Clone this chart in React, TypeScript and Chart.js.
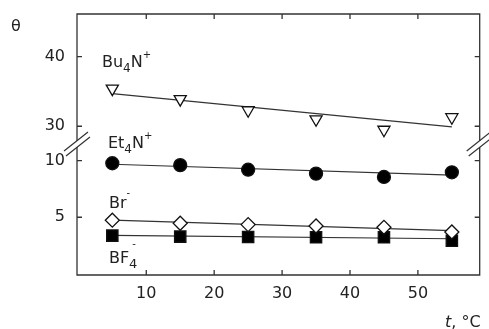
import React, { useEffect, useRef } from "react";
import { Chart, registerables } from "chart.js";

Chart.register(...registerables);

// ---- data ----
const xValues = [5, 15, 25, 35, 45, 55];
const bu4nValues = [35.4, 33.9, 32.3, 31.0, 29.5, 31.3];
const et4nValues = [9.77, 9.6, 9.2, 8.85, 8.56, 8.97];
const brValues = [4.74, 4.47, 4.35, 4.23, 4.11, 3.7];
const bf4Values = [3.38, 3.29, 3.26, 3.23, 3.23, 2.93];
const fitX = [5, 55];
const bu4nFit = [34.7, 29.9];
const et4nFit = [9.68, 8.72];
const brFit = [4.74, 3.82];
const bf4Fit = [3.4, 3.1];
const xTicks = [10, 20, 30, 40, 50];
const yTicksTop = [30, 40];
const yTicksBottom = [5, 10];

const FONT = "'DejaVu Sans', sans-serif";
const TEXT = "#222";

type Part = { t: string; size: number; dy: number; dx?: number; italic?: boolean };
type RichLabel = { x: number; y: number; axis: string; parts: Part[] };

const seriesLabels: RichLabel[] = [
  { x: 3.47, y: 38.56, axis: "yTop", parts: [
    { t: "Bu", size: 16, dy: 0 }, { t: "4", size: 12, dy: 5 }, { t: "N", size: 16, dy: 0 }, { t: "+", size: 10, dy: -9 } ] },
  { x: 4.35, y: 11.12, axis: "yBottom", parts: [
    { t: "Et", size: 16, dy: 0 }, { t: "4", size: 12, dy: 5 }, { t: "N", size: 16, dy: 0 }, { t: "+", size: 10, dy: -9 } ] },
  { x: 4.5, y: 5.82, axis: "yBottom", parts: [
    { t: "Br", size: 16, dy: 0 }, { t: "-", size: 10, dy: -12 } ] },
  { x: 4.5, y: 0.96, axis: "yBottom", parts: [
    { t: "BF", size: 16, dy: 0 }, { t: "4", size: 13, dy: 5 }, { t: "-", size: 10, dy: -16, dx: -5 } ] },
];

function drawRich(ctx: CanvasRenderingContext2D, x: number, y: number, parts: Part[]) {
  let cx = x;
  for (const p of parts) {
    ctx.font = `${p.italic ? "italic " : ""}${p.size}px ${FONT}`;
    cx += p.dx || 0;
    ctx.fillText(p.t, cx, y + p.dy);
    cx += ctx.measureText(p.t).width;
  }
}

const framePlugin = {
  id: "framePlugin",
  afterDraw(chart: any) {
    const ctx = chart.ctx as CanvasRenderingContext2D;
    const a = chart.chartArea;
    const left = a.left, right = a.right, top = a.top, bottom = a.bottom;
    const xs = chart.scales.x;
    const yt = chart.scales.yTop;
    const yb = chart.scales.yBottom;
    ctx.save();
    ctx.strokeStyle = "#333";
    ctx.lineWidth = 1.3;
    ctx.beginPath();
    ctx.moveTo(left, top);
    ctx.lineTo(right, top);
    ctx.lineTo(right, bottom);
    ctx.lineTo(left, bottom);
    ctx.closePath();
    ctx.stroke();
    const tl = 5;
    ctx.beginPath();
    for (const v of xTicks) {
      const px = xs.getPixelForValue(v);
      ctx.moveTo(px, bottom);
      ctx.lineTo(px, bottom - tl);
      ctx.moveTo(px, top);
      ctx.lineTo(px, top + tl);
    }
    const yPix = [
      ...yTicksTop.map((v) => yt.getPixelForValue(v)),
      ...yTicksBottom.map((v) => yb.getPixelForValue(v)),
    ];
    for (const py of yPix) {
      ctx.moveTo(left, py);
      ctx.lineTo(left + tl, py);
      ctx.moveTo(right, py);
      ctx.lineTo(right - tl, py);
    }
    ctx.stroke();

    // axis break marks
    const by = yt.bottom;
    for (const ax of [left, right]) {
      ctx.fillStyle = "#fff";
      ctx.fillRect(ax - 2, by - 3, 4, 6);
      ctx.beginPath();
      ctx.lineWidth = 1.2;
      ctx.moveTo(ax - 13, by + 7);
      ctx.lineTo(ax + 11, by - 12);
      ctx.moveTo(ax - 11, by + 12);
      ctx.lineTo(ax + 13, by - 7);
      ctx.stroke();
    }

    ctx.fillStyle = TEXT;
    ctx.textBaseline = "alphabetic";
    ctx.textAlign = "left";
    for (const lab of seriesLabels) {
      const px = xs.getPixelForValue(lab.x);
      const py = chart.scales[lab.axis].getPixelForValue(lab.y);
      drawRich(ctx, px, py, lab.parts);
    }
    drawRich(ctx, 11, 31, [{ t: "θ", size: 16, dy: 0 }]);
    drawRich(ctx, 445, 327, [{ t: "t", size: 16, dy: 0, italic: true }, { t: ", °C", size: 16, dy: 0 }]);
    ctx.restore();
  },
};

function pts(xv: number[], yv: number[]) {
  return xv.map((x, i) => ({ x, y: yv[i] }));
}

function noPad(s: any) {
  s.paddingTop = 0;
  s.paddingBottom = 0;
  s.paddingLeft = 0;
  s.paddingRight = 0;
}

export default function App() {
  const ref = useRef<HTMLCanvasElement>(null);
  useEffect(() => {
    if (!ref.current) return;
    const markerBase = { showLine: false, borderColor: "#111", borderWidth: 1.3, pointBorderWidth: 1.3 };
    const fitBase = { showLine: true, borderColor: "#333", borderWidth: 1.2, pointRadius: 0, fill: false };
    const chart = new Chart(ref.current, {
      type: "scatter",
      data: {
        datasets: [
          { ...markerBase, label: "Bu4N+", yAxisID: "yTop", data: pts(xValues, bu4nValues), pointStyle: "triangle", rotation: 180, pointRadius: 7, backgroundColor: "#fff" },
          { ...markerBase, label: "Et4N+", yAxisID: "yBottom", data: pts(xValues, et4nValues), pointStyle: "circle", pointRadius: 6.5, backgroundColor: "#000" },
          { ...markerBase, label: "Br-", yAxisID: "yBottom", data: pts(xValues, brValues), pointStyle: "rectRot", pointRadius: 7, backgroundColor: "#fff" },
          { ...markerBase, label: "BF4-", yAxisID: "yBottom", data: pts(xValues, bf4Values), pointStyle: "rect", pointRadius: 8, backgroundColor: "#000" },
          { ...fitBase, label: "fit Bu", yAxisID: "yTop", data: pts(fitX, bu4nFit) },
          { ...fitBase, label: "fit Et", yAxisID: "yBottom", data: pts(fitX, et4nFit) },
          { ...fitBase, label: "fit Br", yAxisID: "yBottom", data: pts(fitX, brFit) },
          { ...fitBase, label: "fit BF", yAxisID: "yBottom", data: pts(fitX, bf4Fit) },
        ],
      } as any,
      options: {
        responsive: false,
        animation: false,
        layout: { padding: { top: 14, right: 6, left: 0, bottom: 0 } },
        plugins: { legend: { display: false }, tooltip: { enabled: false } },
        scales: {
          x: {
            type: "linear", position: "bottom", min: -0.2, max: 59.1,
            grid: { display: false, drawTicks: false }, border: { display: false },
            afterBuildTicks: (s: any) => { s.ticks = xTicks.map((v) => ({ value: v })); },
            afterFit: (s: any) => { s.height = 54; noPad(s); },
            ticks: { color: TEXT, font: { family: FONT, size: 16 }, padding: 9, maxRotation: 0 },
          },
          yTop: {
            type: "linear", position: "left", stack: "y", stackWeight: 130, weight: 2, min: 27.45, max: 46.13,
            grid: { display: false, drawTicks: false }, border: { display: false },
            afterBuildTicks: (s: any) => { s.ticks = yTicksTop.map((v) => ({ value: v })); },
            afterFit: (s: any) => { s.width = 77; noPad(s); },
            ticks: { color: TEXT, font: { family: FONT, size: 16 }, padding: 12 },
          },
          yBottom: {
            type: "linear", position: "left", stack: "y", stackWeight: 131, weight: 1, min: -0.1, max: 11.47,
            grid: { display: false, drawTicks: false }, border: { display: false },
            afterBuildTicks: (s: any) => { s.ticks = yTicksBottom.map((v) => ({ value: v })); },
            afterFit: (s: any) => { s.width = 77; noPad(s); },
            ticks: { color: TEXT, font: { family: FONT, size: 16 }, padding: 12 },
          },
        },
      } as any,
      plugins: [framePlugin],
    });
    return () => chart.destroy();
  }, []);
  return (
    <div style={{ position: "fixed", left: 0, top: 0, width: 489, height: 329, background: "#fff" }}>
      <canvas ref={ref} width={489} height={329} style={{ display: "block" }} />
    </div>
  );
}
